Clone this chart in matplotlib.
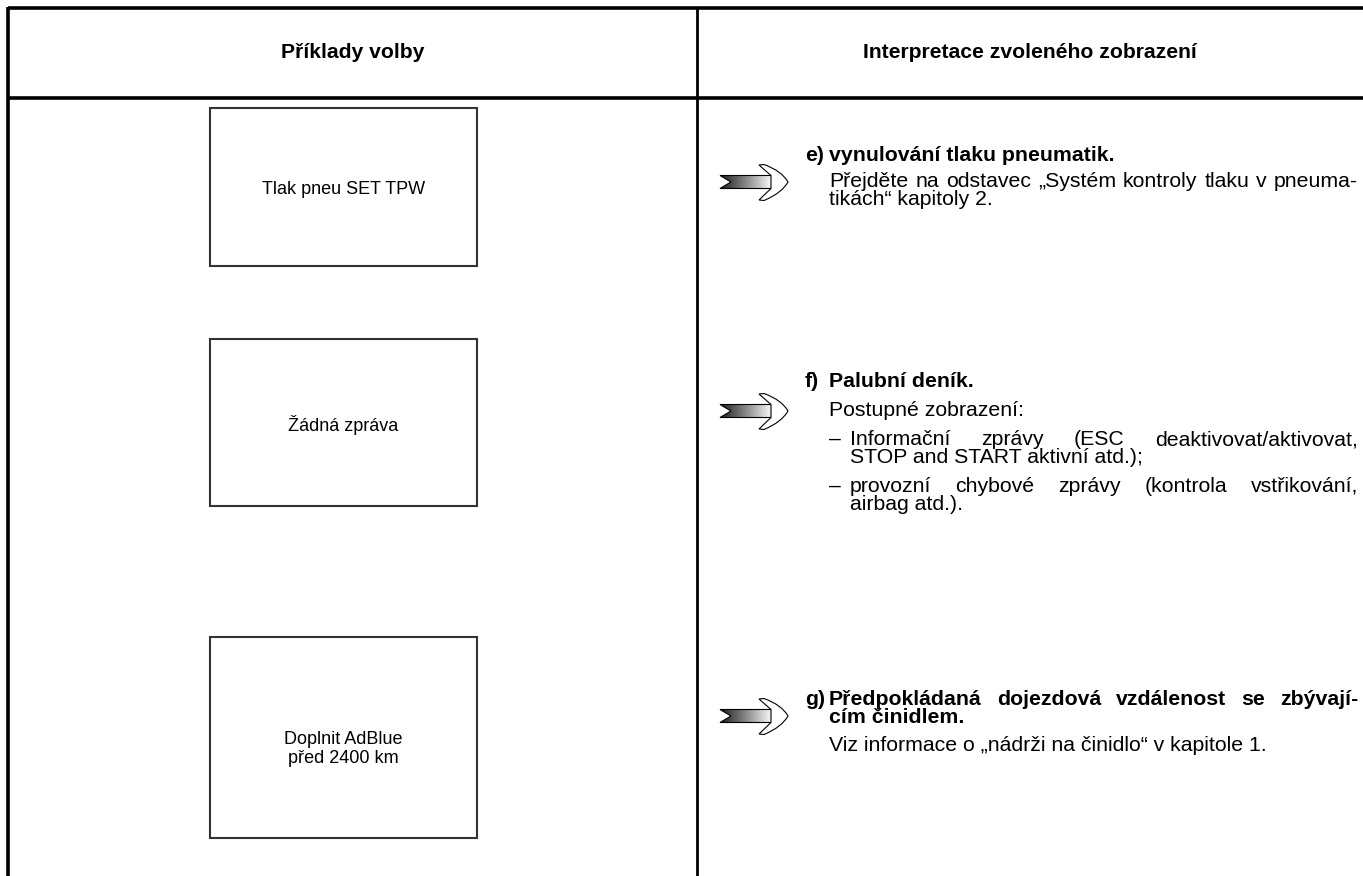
import matplotlib
matplotlib.use('Agg')
import matplotlib.pyplot as plt
from matplotlib.patches import Rectangle, Polygon, PathPatch
from matplotlib.path import Path
from matplotlib.colors import LinearSegmentedColormap
import numpy as np

# ---------------- content ----------------
header_labels = ["Příklady volby", "Interpretace zvoleného zobrazení"]
display_messages = ["Tlak pneu SET TPW", "Žádná zpráva", "Doplnit AdBlue\npřed 2400 km"]
item_markers = ["e)", "f)", "g)"]
item_titles = [
    ["vynulování tlaku pneumatik."],
    ["Palubní deník."],
    ["Předpokládaná dojezdová vzdálenost se zbývají-", "cím činidlem."],
]
# body lines: (text, indent_level, justified)
item_bodies = [
    [("Přejděte na odstavec „Systém kontroly tlaku v pneuma-", 0, True),
     ("tikách“ kapitoly 2.", 0, False)],
    [("Postupné zobrazení:", 0, False),
     ("– Informační zprávy (ESC deaktivovat/aktivovat,", 1, True),
     ("STOP and START aktivní atd.);", 2, False),
     ("– provozní chybové zprávy (kontrola vstřikování,", 1, True),
     ("airbag atd.).", 2, False)],
    [("Viz informace o „nádrži na činidlo“ v kapitole 1.", 0, False)],
]

# ---------------- layout (pixels) ----------------
W, H = 1363, 876
FONT = 'Liberation Sans'
FS_BOX = 13.0
FS_HEAD = 15.2
FS = 15.3
title_baselines = [[161], [387], [705, 723]]
body_baselines = [[187, 205], [416, 445, 463, 492, 510], [751]]
arrow_tips = [(788, 182), (788, 411), (788, 716)]
box_rows = [(108, 266), (339, 506), (637, 838)]
box_x = (210, 477)
msg_centers = [190, 425, 749]

fig = plt.figure(figsize=(W / 100, H / 100), dpi=100)
ax = fig.add_axes([0, 0, 1, 1])
ax.set_xlim(0, W)
ax.set_ylim(H, 0)
ax.axis('off')
renderer = fig.canvas.get_renderer()

# table frame
lw_frame = 2.6
ax.plot([8, 8], [7, H], color='black', lw=lw_frame, solid_capstyle='butt')
ax.plot([8, W], [7.5, 7.5], color='black', lw=lw_frame, solid_capstyle='butt')
ax.plot([8, W], [98, 98], color='black', lw=lw_frame, solid_capstyle='butt')
ax.plot([697, 697], [7, H], color='black', lw=2.0, solid_capstyle='butt')

# headers
ax.text((8 + 697) / 2, 58, header_labels[0], fontsize=FS_HEAD, fontweight='bold',
        family=FONT, ha='center', va='baseline')
ax.text((697 + W) / 2, 58, header_labels[1], fontsize=FS_HEAD, fontweight='bold',
        family=FONT, ha='center', va='baseline')

# display boxes
for (y0, y1), msg, yc in zip(box_rows, display_messages, msg_centers):
    ax.add_patch(Rectangle((box_x[0], y0), box_x[1] - box_x[0], y1 - y0,
                           fill=False, edgecolor='#333333', lw=1.5))
    ax.text((box_x[0] + box_x[1]) / 2, yc, msg, fontsize=FS_BOX, family=FONT,
            ha='center', va='center', linespacing=1.1)


def text_width(s, bold=False):
    t = ax.text(0, 0, s, fontsize=FS, family=FONT,
                fontweight='bold' if bold else 'normal')
    w = t.get_window_extent(renderer).width
    t.remove()
    return w


def draw_line(x0, x1, y, s, justify=False, bold=False):
    fw = 'bold' if bold else 'normal'
    if not justify:
        ax.text(x0, y, s, fontsize=FS, family=FONT, fontweight=fw,
                ha='left', va='baseline')
        return
    words = s.split(' ')
    widths = [text_width(w, bold) for w in words]
    gap = (x1 - x0 - sum(widths)) / (len(words) - 1)
    gap = max(gap, 2.0)
    x = x0
    for w, wd in zip(words, widths):
        ax.text(x, y, w, fontsize=FS, family=FONT, fontweight=fw,
                ha='left', va='baseline')
        x += wd + gap


def arrow(tx, ty):
    L, R, hh = tx - 68, tx - 15, 6.5
    shaft = Polygon([(L, ty - hh), (R, ty - hh), (R, ty + hh), (L, ty + hh),
                     (L + 11, ty)], closed=True, facecolor='none',
                    edgecolor='black', lw=0.8)
    cmap = LinearSegmentedColormap.from_list('g', ['#1e1e1e', '#8a8a8a', '#ffffff'])
    grad = np.linspace(0, 1, 200).reshape(1, -1)
    im = ax.imshow(grad, cmap=cmap, extent=(L, R, ty + hh, ty - hh),
                   aspect='auto', interpolation='bilinear', zorder=2)
    clip = Polygon(shaft.get_xy(), closed=True, transform=ax.transData)
    im.set_clip_path(clip)
    shaft.set_zorder(3)
    ax.add_patch(shaft)
    verts = [(-17, -6.5), (-29, -17), (-24, -17.5), (-6, -11), (0, 0),
             (-6, 11), (-24, 18.5), (-29, 18), (-17, 6.5), (-17, -6.5)]
    codes = [Path.MOVETO, Path.LINETO, Path.LINETO, Path.CURVE3, Path.CURVE3,
             Path.CURVE3, Path.CURVE3, Path.LINETO, Path.LINETO, Path.CLOSEPOLY]
    p = Path([(tx + dx, ty + dy) for dx, dy in verts], codes)
    ax.add_patch(PathPatch(p, facecolor='white', edgecolor='black', lw=0.8,
                           zorder=4))


X_MARK, X_TEXT, X_SUB, X_RIGHT = 805, 829, 850, 1358
for i in range(3):
    arrow(*arrow_tips[i])
    ax.text(X_MARK, title_baselines[i][0], item_markers[i], fontsize=FS,
            family=FONT, fontweight='bold', ha='left', va='baseline')
    nt = len(item_titles[i])
    for j, (line, yb) in enumerate(zip(item_titles[i], title_baselines[i])):
        draw_line(X_TEXT, X_RIGHT, yb, line, justify=(j < nt - 1), bold=True)
    for (line, lvl, just), yb in zip(item_bodies[i], body_baselines[i]):
        if lvl == 1:
            ax.text(X_TEXT, yb, '–', fontsize=FS, family=FONT, ha='left',
                    va='baseline')
            draw_line(X_SUB, X_RIGHT, yb, line[2:], justify=just)
        elif lvl == 2:
            draw_line(X_SUB, X_RIGHT, yb, line, justify=just)
        else:
            draw_line(X_TEXT, X_RIGHT, yb, line, justify=just)

fig.savefig('out.png', dpi=100, facecolor='white')
